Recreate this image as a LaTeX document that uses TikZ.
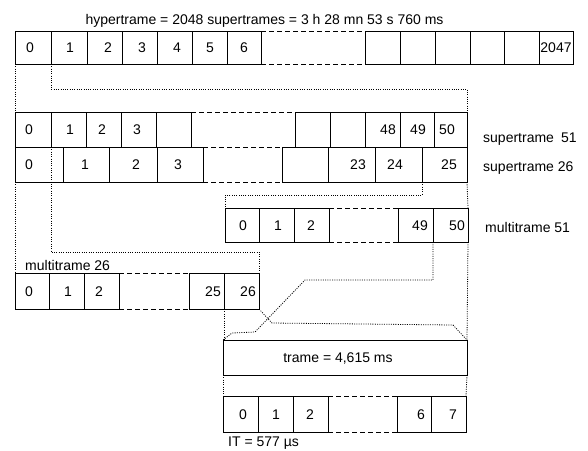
\documentclass[tikz,border=0pt]{standalone}
\usepackage{fontspec}
\setmainfont{Liberation Sans}
\usetikzlibrary{calc}
\newcommand{\mkcell}[5]{%
  \node[cellst, minimum width={(#3-#2)*1pt}, minimum height={(#5-#4)*1pt}] (#1) at ({(#2+#3)/2},{(#4+#5)/2}) {};}
\newcommand{\mknum}[4]{% name, x, ycenter, text
  \node[num] (#1) at (#2,{#3+5}) {#4};}
\begin{document}
\begin{tikzpicture}[x=1pt,y=-1pt,
  every node/.style={font=\fontsize{14}{16}\selectfont},
  cellst/.style={draw, line width=1pt, inner sep=0pt, outer sep=0pt},
  num/.style={anchor=base, inner sep=0pt, font=\fontsize{14}{16}\selectfont},
  lbl/.style={anchor=base west, inner sep=0pt, font=\fontsize{14}{16}\selectfont},
  gapline/.style={line width=1pt, dash pattern=on 5pt off 3pt},
  link/.style={line width=0.8pt, dash pattern=on 1pt off 1.3pt}]
\useasboundingbox (0,0) rectangle (588,450);

% title
\node[num] (title) at (264.5,24) {hypertrame = 2048 supertrames = 3 h 28 mn 53 s 760 ms};

% hypertrame row
\mkcell{h0}{15}{51}{31}{64}\mkcell{h1}{51}{87}{31}{64}\mkcell{h2}{87}{122}{31}{64}
\mkcell{h3}{122}{157}{31}{64}\mkcell{h4}{157}{192}{31}{64}\mkcell{h5}{192}{227}{31}{64}
\mkcell{h6}{227}{261}{31}{64}
\mkcell{h7}{365}{400}{31}{64}\mkcell{h8}{400}{435}{31}{64}\mkcell{h9}{435}{470}{31}{64}
\mkcell{h10}{470}{504}{31}{64}\mkcell{h11}{504}{539}{31}{64}\mkcell{h12}{539}{573}{31}{64}
\draw[gapline] (h6.north east) -- (h7.north west);
\draw[gapline] (h6.south east) -- (h7.south west);
\mknum{h0t}{30}{47.5}{0}\mknum{h1t}{70}{47.5}{1}\mknum{h2t}{108}{47.5}{2}
\mknum{h3t}{142}{47.5}{3}\mknum{h4t}{177}{47.5}{4}\mknum{h5t}{210}{47.5}{5}
\mknum{h6t}{244}{47.5}{6}\mknum{h12t}{556}{47.5}{2047}

% supertrame 51
\mkcell{a0}{15}{51}{112}{147}\mkcell{a1}{51}{86}{112}{147}\mkcell{a2}{86}{121}{112}{147}
\mkcell{a3}{121}{156}{112}{147}\mkcell{a4}{156}{191}{112}{147}
\mkcell{a5}{295}{330}{112}{147}\mkcell{a6}{330}{365}{112}{147}\mkcell{a7}{365}{400}{112}{147}
\mkcell{a8}{400}{434}{112}{147}\mkcell{a9}{434}{467}{112}{147}
\draw[gapline] (a4.north east) -- (a5.north west);
\mknum{a0t}{29}{129.5}{0}\mknum{a1t}{70}{129.5}{1}\mknum{a2t}{102}{129.5}{2}
\mknum{a3t}{137}{129.5}{3}\mknum{a7t}{388}{129.5}{48}\mknum{a8t}{418}{129.5}{49}
\mknum{a9t}{447}{129.5}{50}
\node[lbl] (la) at (483,142) {supertrame\hspace{0.5em}51};

% supertrame 26
\mkcell{b0}{15}{63}{147}{182}\mkcell{b1}{63}{109}{147}{182}\mkcell{b2}{109}{157}{147}{182}
\mkcell{b3}{157}{203}{147}{182}
\mkcell{b4}{282}{328}{147}{182}\mkcell{b5}{328}{375}{147}{182}\mkcell{b6}{375}{422}{147}{182}
\mkcell{b7}{422}{467}{147}{182}
\draw[gapline] (b3.north east) -- (b4.north west);
\draw[gapline] (b3.south east) -- (b4.south west);
\mknum{b0t}{29}{164.5}{0}\mknum{b1t}{85}{164.5}{1}\mknum{b2t}{136}{164.5}{2}
\mknum{b3t}{178}{164.5}{3}\mknum{b5t}{358}{164.5}{23}\mknum{b6t}{395}{164.5}{24}
\mknum{b7t}{449}{164.5}{25}
\node[lbl] (lb) at (483,171) {supertrame 26};

% multitrame 51
\mkcell{m0}{225}{259}{208}{242}\mkcell{m1}{259}{294}{208}{242}\mkcell{m2}{294}{329}{208}{242}
\mkcell{m3}{398}{433}{208}{242}\mkcell{m4}{433}{468}{208}{242}
\draw[gapline] (m2.north east) -- (m3.north west);
\draw[gapline] (m2.south east) -- (m3.south west);
\mknum{m0t}{243}{225}{0}\mknum{m1t}{278}{225}{1}\mknum{m2t}{311}{225}{2}
\mknum{m3t}{420}{225}{49}\mknum{m4t}{457}{225}{50}
\node[lbl] (lm) at (485,232) {multitrame 51};

% multitrame 26
\mkcell{n0}{15}{49}{273}{309}\mkcell{n1}{49}{84}{273}{309}\mkcell{n2}{84}{119}{273}{309}
\mkcell{n3}{189}{224}{273}{309}\mkcell{n4}{224}{259}{273}{309}
\draw[gapline] (n2.north east) -- (n3.north west);
\draw[gapline] (n2.south east) -- (n3.south west);
\mknum{n0t}{29}{291}{0}\mknum{n1t}{68}{291}{1}\mknum{n2t}{99}{291}{2}
\mknum{n3t}{213}{291}{25}\mknum{n4t}{248}{291}{26}
\node[lbl] (ln) at (25,270) {multitrame 26};

% trame
\mkcell{tr}{223}{467}{340}{375}
\node[num] (trt) at (338,362.5) {trame = 4,615 ms};

% IT row
\mkcell{i0}{223}{258}{396}{432}\mkcell{i1}{258}{293}{396}{432}\mkcell{i2}{293}{328}{396}{432}
\mkcell{i3}{397}{431}{396}{432}\mkcell{i4}{431}{466}{396}{432}
\draw[gapline] (i2.north east) -- (i3.north west);
\draw[gapline] (i2.south east) -- (i3.south west);
\mknum{i0t}{243}{414}{0}\mknum{i1t}{276}{414}{1}\mknum{i2t}{310}{414}{2}
\mknum{i3t}{421}{414}{6}\mknum{i4t}{453}{414}{7}
\node[lbl] (lit) at (228,446) {IT = 577 µs};

% dotted connectors
\draw[link] (h0.south west) -- (a0.north west);
\draw[link] (h1.south west) -- ++(0,25) -| (a9.north east);
\draw[link] (b0.south west) -- (n0.north west);
\draw[link] (a1.south west) -- ++(0,105) -| (n4.north east);
\draw[link] (b7.south west) -- ++(0,13) -| (m0.north west);
\draw[link] (b7.south east) -- (m4.north east);
\draw[link] (m4.south west) -- ++(0,38) -- ++(-128,0) -- ++(-50,52) -- ++(-23,1) -- (tr.north west);
\draw[link] (m4.south east) -- (tr.north east);
\draw[link] (n4.south west) -- (n4.south west |- tr.north);
\draw[link] (n4.south east) -- ++(13,14) -- ++(181,2) -- (tr.north east);
\draw[link] (tr.south west) -- (i0.north west);
\draw[link] (tr.south east) -- (i4.north east);
\end{tikzpicture}
\end{document}
